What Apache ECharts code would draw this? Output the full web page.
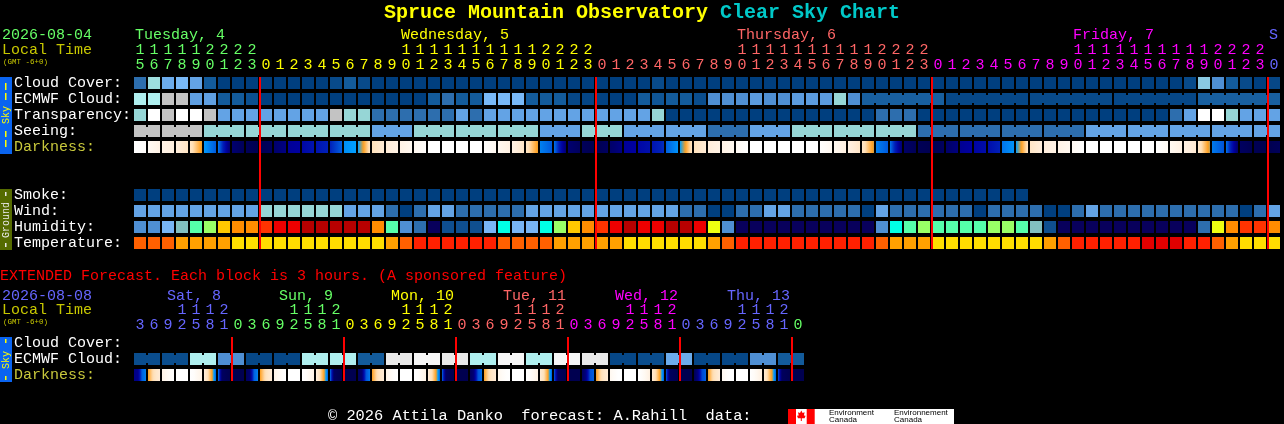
<!DOCTYPE html>
<html><head><meta charset="utf-8">
<style>html,body{margin:0;padding:0;background:#000}#c{width:1284px;height:424px}</style>
<script src="https://cdn.jsdelivr.net/npm/echarts@6/dist/echarts.min.js"></script>
</head><body><div id="c"></div>
<script>
// ---------- labels ----------
const shortRows = ['Cloud Cover:','ECMWF Cloud:','Transparency:','Seeing:','Darkness:',' ','  ','Smoke:','Wind:','Humidity:','Temperature:'];
const extRows = ['Cloud Cover:','ECMWF Cloud:','Darkness:'];
const shortHours = [15,16,17,18,19,20,21,22,23,
 0,1,2,3,4,5,6,7,8,9,10,11,12,13,14,15,16,17,18,19,20,21,22,23,
 0,1,2,3,4,5,6,7,8,9,10,11,12,13,14,15,16,17,18,19,20,21,22,23,
 0,1,2,3,4,5,6,7,8,9,10,11,12,13,14,15,16,17,18,19,20,21,22,23,0];
const extHours = [3,6,9,12,15,18,21,0,3,6,9,12,15,18,21,0,3,6,9,12,15,18,21,0,3,6,9,12,15,18,21,0,3,6,9,12,15,18,21,0,3,6,9,12,15,18,21,0];
const shortDayNames = ['Tuesday, 4','Wednesday, 5','Thursday, 6','Friday, 7','S'];
const shortDayCols = [0,19,43,67,81];
const extDayNames = ['Sat, 8','Sun, 9','Mon, 10','Tue, 11','Wed, 12','Thu, 13'];
const extDayCols = [2,10,18,26,34,42];
const shortMidnights = [9,33,57,81];
const extMidnights = [7,15,23,31,39,47];

// ---------- short forecast values (0 = clear ... 10 = overcast scale) ----------
const cloudCover = [2,6.3,4.4,5,4,1,0,0,0,0,0,0,0,0,0.4,1,0.4,0,0,0,0,0,0,0,0,0,0,0,0,0,0,0,0,0,0,0,0,0.4,0,0,0,0,0,0,0,0,0,0,0,0,0,0,0,0,0,0,0,0,0,0,0,0,0,0,0,0,0,0,0,0,0,0,0,0,0,0.4,5.6,3,1,0.4,0,0.3];
const ecmwfCloud = [7,7,8,8,3.8,3.8,1,1,0.6,0,0,0,0,0,0,0,0,0,0,0,0,1,2,1,1,5,5,5,1,1,1,0.3,0.2,0.1,0,0,1,0.8,1,1,0.5,3,3,3,3.6,3,3,3.6,3.6,3.6,6,3, 1.2,0.3,0.4,0.3,1.2];
const ecmwfBlockSizes = [1,1,1,1,1,1,1,1,1,1,1,1,1,1,1,1,1,1,1,1,1,1,1,1,1,1,1,1,1,1,1,1,1,1,1,1,1,1,1,1,1,1,1,1,1,1,1,1,1,1,1,1,6,6,6,6,6];
const transparency = [6,10,8,10,10,8,4,4,4,4,4,4,4,4,8,6,6,2,2,2,2,2,2,4,2,4,4,4,4,4,4,4,4,4,4,4,4,6,0,0,0,0,0,0,0,0,0,0,0,0,0,0,0,2,2,2,0,0,0,0,0,0,0,0,0,0,0,0,0,0,0,0,0,0,2,4,10,10,6,4,4,4];
const seeing = [8,8,6,6,6,6,4,6,6,6,4,6,4,4,2,4,6,6,6,2,2,2,2,4,4,4,4,4];
const seeingBlockSizes = [2,3,3,3,3,3,3,3,3,3,3,3,3,3,3,3,3,3,3,3,3,3,3,3,3,3,3,2];
const darknessEnds = [[0,0.3],[0.8,1.6],[1.5,1.9],[2,2.7],[2.7,4.1],[5.1,6.1],[5.6,9],[9,9.7],[9.7,10],[10,9.5],[9.1,8.6],[8.2,8],[7.8,7.4],[7.4,7],[7,6],[5.3,5],[5,2.8],[2.9,2.2],[2.2,1.6],[1.6,1],[1,0.3],
 [0,0],[0,0],[0,0],[0,0],[0.2,1],[1,1.7],[1.7,2.6],[2.7,4.1],[5.5,6.1],[5.7,9],[9,9.6],[9.7,10],[10,9.5],[9.2,8.6],[8.2,8],[7.8,7.5],[7.4,6.8],[6,5.2],[5,2.8],[2.9,2.2],[2.1,1.6],[1.6,1],[0.8,0],
 [0,0],[0,0],[0,0],[0,0],[0,0],[0.1,1],[1,1.8],[1.8,2.6],[2.6,4.2],[5.5,6.1],[5.7,9],[9.3,9.8],[9.8,10],[10,9.5],[9.2,8.7],[8.3,8],[7.9,7.6],[7.6,7],[5.7,5.2],[5,2.8],[2.6,2],[2,1.6],[1.5,1],[0.8,0],
 [0,0],[0,0],[0,0],[0,0],[0,0],[0,0.7],[0.9,1.7],[1.7,2.3],[2.5,4.3],[5.6,6.2],[5.7,9.2],[9.5,9.9],[9.9,10],[10,9.7]];
const smoke = [0,0,0,0,0,0,0,0,0,0,0,0,0,0,0,0,0,0,0,0,0,0,0,0,0,0,0,0,0,0,0,0,0,0,0,0,0,0,0,0,0,0,0,0,0,0,0,0,0,0,0,0,0,0,0,0,0,0,0,0,0,0,0,0];
const wind = [4,4,4,4,4,4,4,4,4,6,6,6,6,6,6,4,4,4,2,0,2,4,4,2,2,2,2,2,4,4,4,4,4,4,4,4,4,4,4,2,2,0,0,2,2,4,4,2,2,2,2,2,0,4,2,2,2,2,2,2,0,2,2,2,2,0,0,2,4,2,2,2,2,2,2,2,2,2,2,0,2,4];
const humidity = [3,3,4,5,7,8,10,11,11,12,13,13,14,14,14,14,14,11,7,3,2,0,1,1,1,4,6,4,4,6,8,10,11,12,13,14,13,13,14,14,13,9,3,0,0,0,0,0,0,0,0,0,0,3,6,7,8,7,7,7,7,8,8,7,5,1,0,0,0,0,0,0,0,0,0,0,2,9,11,12,12,11];
const temperature = [2,2,2,3,3,3,3,4,4,4,4,4,4,4,4,4,4,4,3,2,1,1,1,1,1,1,2,2,2,2,3,3,3,3,3,4,4,4,4,4,4,3,2,1,1,1,1,1,1,1,1,1,1,2,3,3,3,4,4,4,4,4,4,4,4,3,2,1,1,1,1,1,0,0,0,1,1,2,3,4,4,4];

// ---------- extended forecast values ----------
const extEcmwf = [0.5,0.5,7,3,0.3,0.3,7,7,1,9,9.6,9,7,9.6,7,9.6,9,0.3,0.5,4.4,0.3,0.3,3,1];
const extBlockSizes = [2,2,2,2,2,2,2,2,2,2,2,2,2,2,2,2,2,2,2,2,2,2,2,2];
const extDarkness = [
 [8.6,8.4,6,5.5],[4,3.2,2.6,2.2],[1.5,1,0.5,0.1],[0,0,0,0],[0,0.3,1,1.4],[2,3,4,6],[5.5,9.5,9.8,10],[10,10,10,10],
 [9.6,9,6,5.5],[4,3.2,2.6,2.2],[1.5,1,0.4,0],[0,0,0,0],[0,0.3,1,1.5],[2,3,4,6],[5.6,9.5,9.8,10],[10,10,10,10],
 [9.6,9,6.2,5.6],[4,3.2,2.6,2.2],[1.4,0.8,0.3,0],[0,0,0,0],[0,0.3,1,1.6],[2.1,3,4,6],[5.8,9.5,9.8,10],[10,10,10,10],
 [9.6,8.8,6.2,5.8],[4,3.2,2.6,2.2],[1.2,0.6,0.2,0],[0,0,0,0],[0,0.4,1,1.7],[2.2,3,4,6],[6,9.5,9.8,10],[10,10,10,10],
 [9.6,8.6,6.3,6],[4.1,3.2,2.6,2.2],[1,0.5,0,0],[0,0,0,0],[0,0.4,1.1,1.8],[2.3,3.1,4,6],[6,9.6,9.8,10],[10,10,10,10],
 [9.8,8.6,6.4,6],[4.1,3.2,2.6,2.1],[1,0.4,0,0],[0,0,0,0],[0,0.5,1.2,1.9],[2.3,3.2,4.1,6],[6.2,9.6,9.8,10],[10,10,10,10]
];

// ---------- palettes ----------
const skyPalette = ['#003f7f','#135b9b','#2d6eae','#4f8fd3','#63a3e5','#79b9f7','#96d6d6','#afefef','#c3c3c3','#e9e9e9','#ffffff'];
const humidityPalette = ['#08005c','#0f4f8f','#2d6eae','#4f8fd3','#78b5f5','#82c0c0','#00ffe6','#55ffaa','#99ff66','#eeff11','#ffc800','#ff8c00','#ff3300','#ee0000','#b80000'];
const temperaturePalette = ['#e00000','#ff2000','#ff6000','#ffa000','#ffdd00'];
const darknessPalette = ['#ffffff','#fff8f0','#ffeedd','#ffe0b8','#ffa020','#00a0ff','#0060e0','#0020b8','#0000a0','#000070','#000050'];
const dayColorsShort = ['#66ff66','#ffff00','#ff6666','#ff00ff','#6666ff'];
const dayColorsExt = ['#6666ff','#66ff66','#ffff00','#ff6666','#ff00ff','#6666ff','#66ff66'];
const FONT = '"Liberation Mono"';

function hex(c){return [1,3,5].map(i=>parseInt(c.substr(i,2),16));}
function pick(p,v){
  const i=Math.max(0,Math.min(p.length-1,v)),a=Math.floor(i),b=Math.min(p.length-1,a+1),t=i-a;
  const A=hex(p[a]),B=hex(p[b]);
  return 'rgb('+A.map((x,k)=>Math.round(x+(B[k]-x)*t)).join(',')+')';
}
function dayIndex(col,mids){let d=0;for(const m of mids) if(col>=m) d++;return d;}

function blockCells(row,values,sizes,palette){
  const out=[];let col=0;
  values.forEach((v,k)=>{for(let j=0;j<sizes[k];j++){out.push([col,row,v,j<sizes[k]-1?1:0]);col++;}});
  return out.map(d=>({value:d,fill:pick(palette,d[2])}));
}
function plainCells(row,values,palette){return values.map((v,c)=>({value:[c,row,v,0],fill:pick(palette,v)}));}

function cellSeries(xIdx,yIdx,cells){
  const fills=cells.map(c=>c.fill);
  return {type:'custom',xAxisIndex:xIdx,yAxisIndex:yIdx,encode:{x:0,y:1},silent:true,
    data:cells.map(c=>c.value),
    renderItem(p,api){
      const c=api.coord([api.value(0),api.value(1)]),s=api.size([1,1]);
      const x=c[0]-s[0]/2+1,y=c[1]-s[1]/2+2,w=s[0]-2,h=s[1]-4,f=fills[p.dataIndex];
      const kids=[{type:'rect',shape:{x,y,width:w,height:h},style:{fill:f}}];
      if(api.value(3)) kids.push({type:'rect',shape:{x:x+w,y:y+2,width:2,height:h-4},style:{fill:f}});
      return {type:'group',children:kids};
    }};
}
function darkSeries(xIdx,yIdx,row,samples){
  return {type:'custom',xAxisIndex:xIdx,yAxisIndex:yIdx,encode:{x:0,y:1},silent:true,
    data:samples.map((v,c)=>[c,row]),
    renderItem(p,api){
      const c=api.coord([api.value(0),api.value(1)]),s=api.size([1,1]);
      const arr=samples[p.dataIndex],n=arr.length-1,stops=[];
      const N=12;
      for(let k=0;k<=N;k++){
        const t=k/N*n,a=Math.min(n-1,Math.floor(t)),v=arr[a]+(arr[a+1]-arr[a])*(t-a);
        stops.push({offset:k/N,color:pick(darknessPalette,v)});
      }
      return {type:'rect',shape:{x:c[0]-s[0]/2+1,y:c[1]-s[1]/2+2,width:s[0]-2,height:s[1]-4},
        style:{fill:new echarts.graphic.LinearGradient(0,0,1,0,stops)}};
    }};
}
function lineSeries(xIdx,yIdx,cols,first,last){
  return {type:'custom',xAxisIndex:xIdx,yAxisIndex:yIdx,encode:{x:0,y:1},silent:true,z:10,clip:false,
    data:cols.map(c=>[c,first,last]),
    renderItem(p,api){
      const a=api.coord([api.value(0),api.value(1)]),b=api.coord([api.value(0),api.value(2)]),s=api.size([1,1]);
      return {type:'rect',shape:{x:a[0]-s[0]/2,y:a[1]-s[1]/2+2,width:2,height:b[1]-a[1]+s[1]-4},style:{fill:'#ff0000'}};
    }};
}

function topAxis(grid,data,offset,colorFn,opts,labelOpts){
  return Object.assign({type:'category',gridIndex:grid,position:'top',offset,data,
    axisLine:{show:false},axisTick:{show:false},splitLine:{show:false},
    axisLabel:Object.assign({show:true,interval:0,margin:10,verticalAlign:'middle',fontFamily:FONT,fontSize:15,color:(v,i)=>colorFn(i)},labelOpts||{})},opts||{});
}
function tens(h){return h>=10?String(Math.floor(h/10)):'';}
function dayAxisData(n,cols,names){const a=new Array(n).fill('');cols.forEach((c,i)=>a[c]=names[i]);return a;}
function yAxisFor(grid,rows){
  return {type:'category',gridIndex:grid,data:rows,inverse:true,
    axisLine:{show:false},axisTick:{show:false},splitLine:{show:false},
    axisLabel:{show:true,interval:0,align:'left',verticalAlign:'middle',margin:119,padding:[0,0,4,0],fontFamily:FONT,fontSize:15,
      color:(v,i)=>rows[i]==='Darkness:'?'#c8c83c':'#ffffff'}};
}
const shortColor=i=>dayColorsShort[dayIndex(i,shortMidnights)];
const extColor=i=>dayColorsExt[dayIndex(i,extMidnights)];
const shortDayColor=i=>dayColorsShort[Math.max(0,shortDayCols.indexOf(i))];
const extDayColor=i=>dayColorsExt[Math.max(0,extDayCols.indexOf(i))];

function txt(x,y,text,fill,size,extra){
  return Object.assign({type:'text',x,y,silent:true,style:Object.assign({text,fill,font:(size||15)+'px '+FONT,verticalAlign:'middle',align:'left'},extra||{})});
}
function bar(x,y,w,h,fill){return {type:'rect',silent:true,shape:{x,y,width:w,height:h},style:{fill}};}
function vtext(cx,cy,text,fill,size){
  return {type:'text',x:cx,y:cy,rotation:Math.PI/2,silent:true,style:{text,fill,font:size+'px '+FONT,align:'center',verticalAlign:'middle'}};
}
const skyBlue='#0a64f0', ground='#556b00';
const graphics=[
  txt(2,35,'2026-08-04','#66ff66'),txt(2,50,'Local Time','#c8c800'),txt(3,62,'(GMT -6+0)','#c8c800',7.5),
  bar(0,77,12,77,skyBlue),
  bar(5,83,1.5,7,'#ffff00'),bar(5,93,1.5,7,'#ffff00'),vtext(6,115,'Sky','#ffff00',10),bar(5,131,1.5,6,'#ffff00'),bar(5,140,1.5,7,'#ffff00'),
  bar(0,189,12,61,ground),
  bar(5,192,1.5,4,'#e8e8e8'),vtext(6,220,'Ground','#e8e8e8',10),bar(5,243,1.5,4,'#e8e8e8'),
  txt(0,276,'EXTENDED Forecast. Each block is 3 hours. (A sponsored feature)','#ff0000'),
  txt(2,296,'2026-08-08','#6666ff'),txt(2,310,'Local Time','#c8c800'),txt(3,322,'(GMT -6+0)','#c8c800',7.5),
  bar(0,337,12,45,skyBlue),
  bar(5,339,1.5,4,'#ffff00'),vtext(6,360,'Sky','#ffff00',10),bar(5,376,1.5,4,'#ffff00'),
  txt(328,416,'\u00a9 2026 Attila Danko  forecast: A.Rahill  data:','#ffffff',15.35),
  bar(788,409,166,15,'#ffffff'),bar(788,409,8,15,'#ff0000'),bar(806.7,409,8,15,'#ff0000'),
  {type:'polygon',silent:true,shape:{points:[[801.3,410.5],[802.6,413],[804.6,412.3],[803.9,415.5],[805.6,415.8],[804.6,418.2],[801.8,418.2],[801.8,421],[800.8,421],[800.8,418.2],[798,418.2],[797,415.8],[798.7,415.5],[798,412.3],[800,413]]},style:{fill:'#ff0000'}},
  txt(829,413,'Environment','#000000',8,{font:'8px "Liberation Sans"'}),txt(829,420,'Canada','#000000',8,{font:'8px "Liberation Sans"'}),
  txt(894,413,'Environnement','#000000',8,{font:'8px "Liberation Sans"'}),txt(894,420,'Canada','#000000',8,{font:'8px "Liberation Sans"'})
];

const chart=echarts.init(document.getElementById('c'),null,{renderer:'canvas'});
chart.setOption({
  animation:false,backgroundColor:'#000',
  title:{left:384,top:3,padding:0,text:'{a|Spruce Mountain Observatory }{b|Clear Sky Chart}',
    textStyle:{rich:{a:{fontFamily:FONT,fontWeight:'bold',fontSize:20,color:'#ffff00'},b:{fontFamily:FONT,fontWeight:'bold',fontSize:20,color:'#00c8c8'}}}},
  grid:[{left:133,top:75,width:1148,height:176},{left:133,top:335,width:672,height:48}],
  xAxis:[
    topAxis(0,shortHours.map(h=>String(h%10)),0,shortColor),
    topAxis(0,shortHours.map(tens),15,shortColor),
    topAxis(0,dayAxisData(83,shortDayCols,shortDayNames),30,shortDayColor,{boundaryGap:false},{align:'left',padding:[0,0,0,2]}),
    topAxis(1,extHours.map(h=>String(h%10)),0,extColor),
    topAxis(1,extHours.map(tens),15,extColor),
    topAxis(1,dayAxisData(49,extDayCols,extDayNames),29,extDayColor,{boundaryGap:false},{align:'left',padding:[0,0,0,6]})
  ],
  yAxis:[yAxisFor(0,shortRows),yAxisFor(1,extRows)],
  series:[
    cellSeries(0,0,plainCells(0,cloudCover,skyPalette)),
    cellSeries(0,0,blockCells(1,ecmwfCloud,ecmwfBlockSizes,skyPalette)),
    cellSeries(0,0,plainCells(2,transparency,skyPalette)),
    cellSeries(0,0,blockCells(3,seeing,seeingBlockSizes,skyPalette)),
    darkSeries(0,0,4,darknessEnds),
    cellSeries(0,0,plainCells(7,smoke,skyPalette)),
    cellSeries(0,0,plainCells(8,wind,skyPalette)),
    cellSeries(0,0,plainCells(9,humidity,humidityPalette)),
    cellSeries(0,0,plainCells(10,temperature,temperaturePalette)),
    lineSeries(0,0,shortMidnights,0,10),
    cellSeries(3,1,blockCells(1,extEcmwf,extBlockSizes,skyPalette)),
    darkSeries(3,1,2,extDarkness),
    lineSeries(3,1,extMidnights,0,2)
  ],
  graphic:{elements:graphics}
});
</script></body></html>
